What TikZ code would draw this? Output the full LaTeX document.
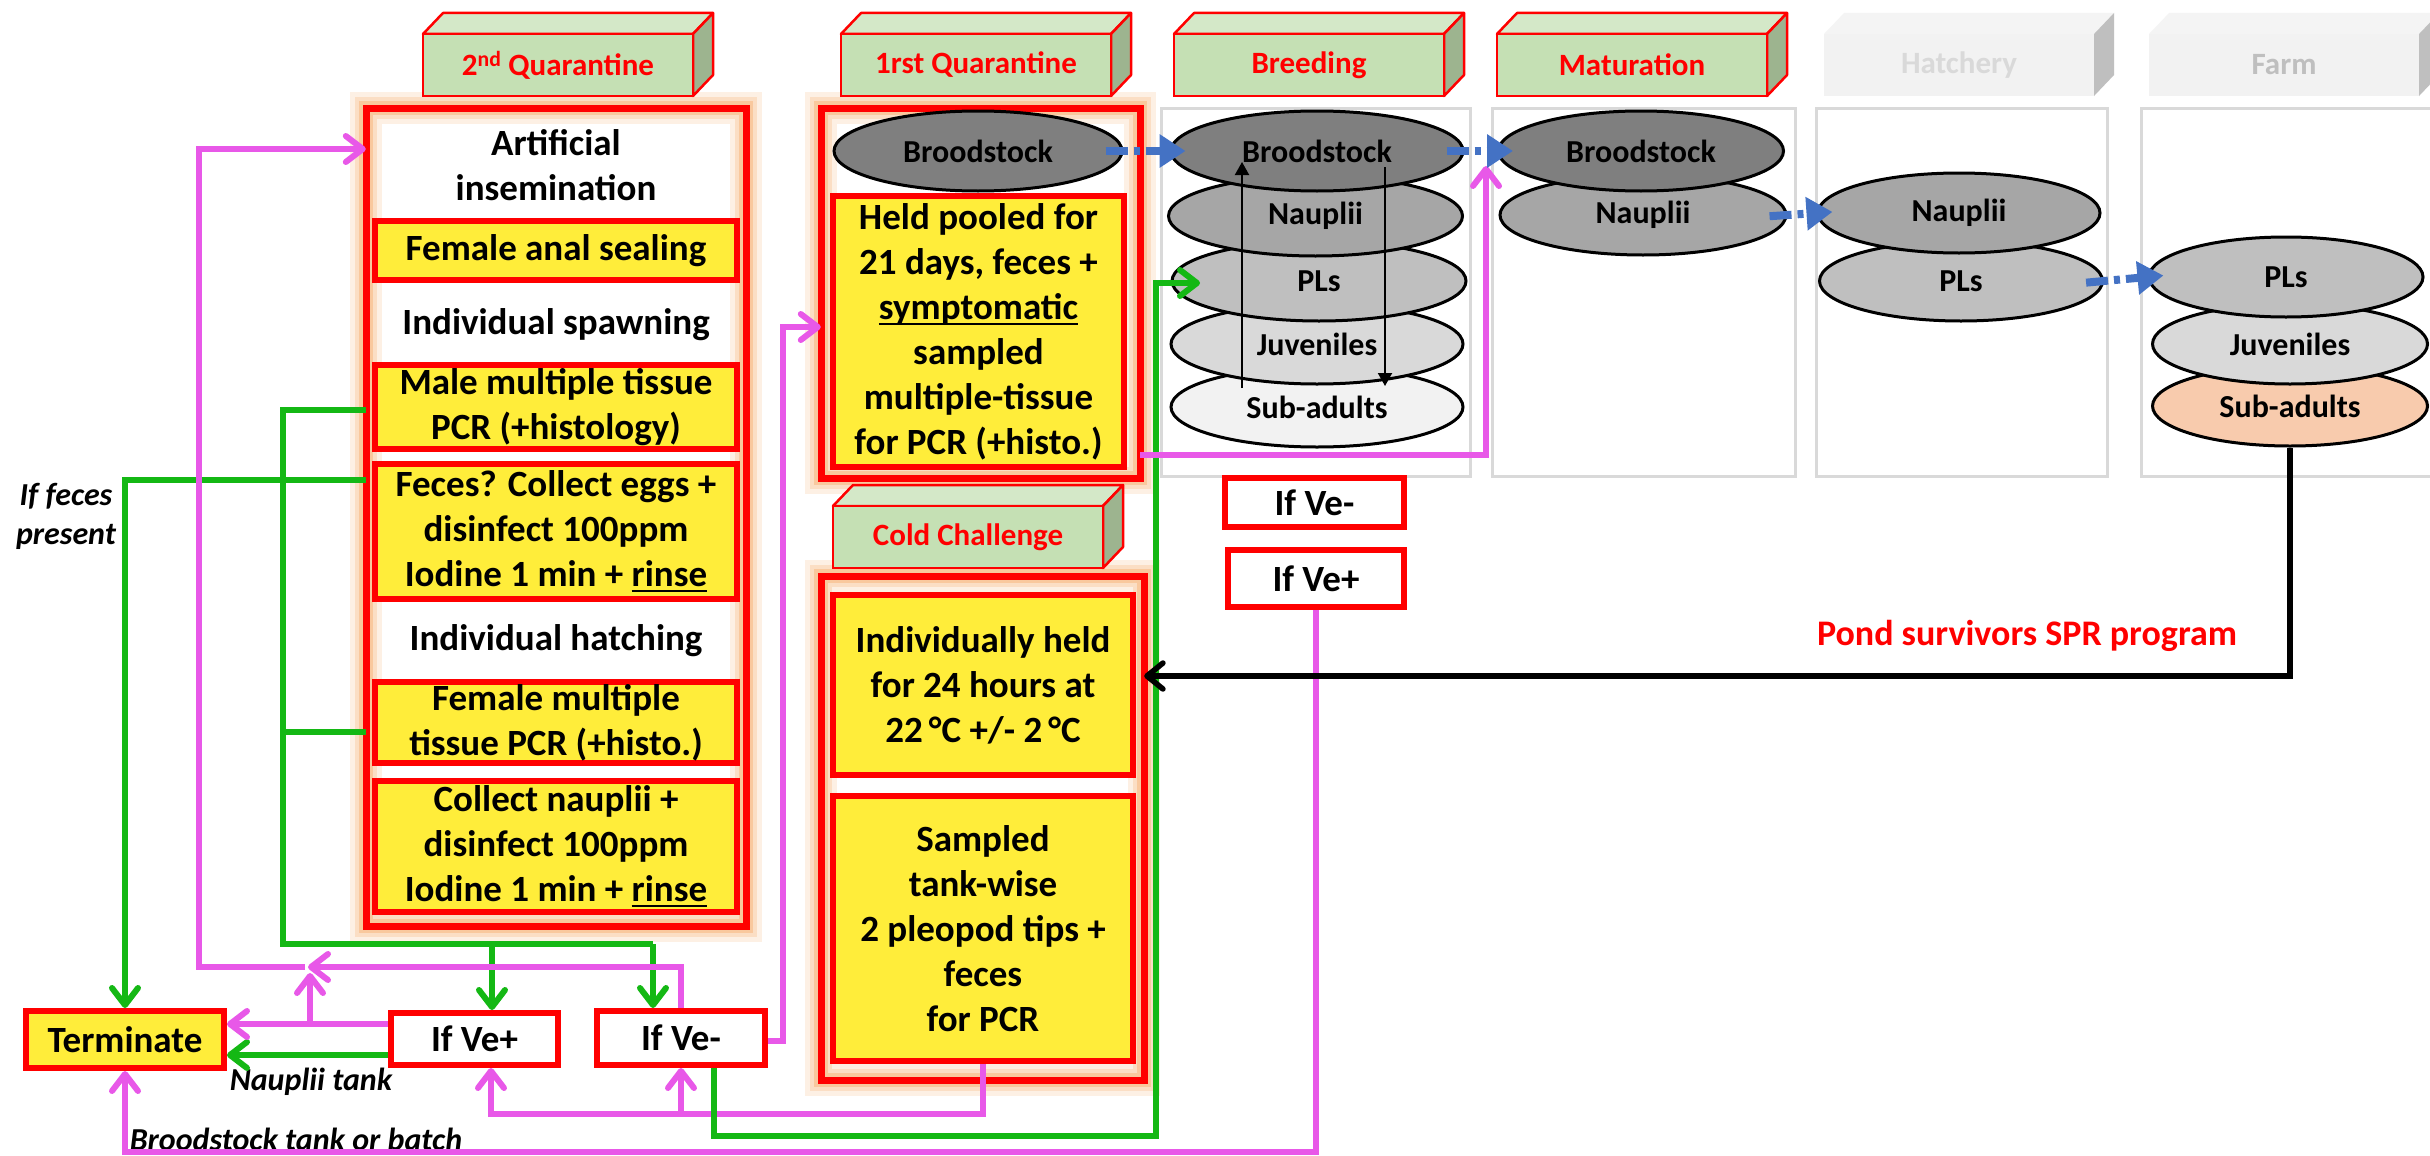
\documentclass[tikz,border=0pt]{standalone}
\usepackage{fontspec}
\setmainfont{Carlito}
\usetikzlibrary{arrows.meta,shapes.geometric,calc}

\definecolor{qred}{RGB}{255,0,0}
\definecolor{qyellow}{RGB}{255,237,58}
\definecolor{qpink}{RGB}{232,88,232}
\definecolor{qgreen}{RGB}{20,184,20}
\definecolor{qblue}{RGB}{68,114,196}
\definecolor{qglow}{RGB}{247,150,70}
\definecolor{lblfront}{RGB}{197,224,180}
\definecolor{lbltop}{RGB}{212,232,200}
\definecolor{lblside}{RGB}{157,180,143}
\definecolor{grayfront}{RGB}{242,242,242}
\definecolor{graytop}{RGB}{244,244,244}
\definecolor{grayside}{RGB}{191,191,191}
\definecolor{framegray}{RGB}{217,217,217}
\definecolor{ellA}{RGB}{127,127,127}
\definecolor{ellB}{RGB}{166,166,166}
\definecolor{ellC}{RGB}{191,191,191}
\definecolor{ellD}{RGB}{217,217,217}
\definecolor{ellE}{RGB}{242,242,242}
\definecolor{peach}{RGB}{248,203,173}

\newcommand{\bxfont}{\fontsize{37}{45}\selectfont\bfseries}
\newcommand{\lbfont}{\fontsize{31}{36}\selectfont\bfseries}
\newcommand{\elfont}{\fontsize{32}{36}\selectfont\bfseries}
\newcommand{\ntfont}{\fontsize{32}{39}\selectfont\bfseries\itshape}
\newcommand{\ulin}[1]{\setbox0=\hbox{#1}\rlap{\rule[-6pt]{\wd0}{2.5pt}}\box0}

% 3D header blocks: name, left x, top y of front face, text
\newcommand{\greenlabel}[4]{%
  \filldraw[fill=lbltop,draw=qred,line width=2.5pt,line join=round]
    (#2,#3) -- ++(20,-21) -- ++(270,0) -- ++(-20,21) -- cycle;
  \filldraw[fill=lblside,draw=qred,line width=2.5pt,line join=round]
    (#2+270,#3) -- ++(20,-21) -- ++(0,62) -- ++(-20,21) -- cycle;
  \node[draw=qred,line width=2.5pt,fill=lblfront,minimum width=270pt,
        minimum height=62pt,inner sep=0pt,font=\lbfont,text=qred]
    (#1) at (#2+135,#3+31) {#4};}
\newcommand{\greylabel}[5]{%
  \fill[graytop] (#2,#3) -- ++(20,-21) -- ++(270,0) -- ++(-20,21) -- cycle;
  \fill[grayside] (#2+270,#3) -- ++(20,-21) -- ++(0,62) -- ++(-20,21) -- cycle;
  \node[fill=grayfront,minimum width=270pt,minimum height=62pt,inner sep=0pt,
        font=\lbfont,text=#5] (#1) at (#2+135,#3+31) {#4};}

\tikzset{
  glowframe/.style={fill=white, inner sep=0pt,
    postaction={draw=qglow, draw opacity=0.14, line width=32pt},
    postaction={draw=qglow, draw opacity=0.2, line width=22pt},
    postaction={draw=qglow, draw opacity=0.3, line width=14pt},
    postaction={draw=qred, line width=7pt}},
  ybox/.style={draw=qred, line width=6pt, fill=qyellow, inner sep=0pt,
    font=\bxfont, align=center},
  wbox/.style={draw=qred, line width=6pt, fill=white, inner sep=0pt,
    font=\bxfont, align=center},
  btext/.style={inner sep=0pt, font=\bxfont, align=center},
  tankframe/.style={draw=framegray, line width=3pt, inner sep=0pt},
  stage/.style={ellipse, draw=black, line width=3pt, inner sep=0pt,
    minimum height=80pt, font=\elfont},
  note/.style={inner sep=0pt, font=\ntfont, align=center},
  pinkflow/.style={draw=qpink, line width=6pt},
  greenflow/.style={draw=qgreen, line width=6pt},
  openhead/.style={-{Straight Barb[length=17pt,width=26pt,round]}},
  blueflow/.style={draw=qblue, line width=8pt,
    dash pattern=on 22pt off 6pt on 6pt off 6pt,
    -{Triangle[length=26pt,width=32pt]}, shorten <=-18pt, shorten >=-16pt},
  thinarrow/.style={draw=black, line width=2pt, -{Triangle[length=13pt,width=14pt]}},
  returnflow/.style={draw=black, line width=5.5pt, -{Straight Barb[length=16pt,width=26pt,round]}},
}

\begin{document}
\begin{tikzpicture}[x=1pt,y=-1pt]
\useasboundingbox (0,0) rectangle (2430,1156);
\fill[white] (0,0) rectangle (2430,1156);

% ---------- 2nd quarantine ----------
\node[glowframe, minimum width=380pt, minimum height=818pt] (q2) at (556,517) {};
\node[btext] (ai) at (556,165) {Artificial\\insemination};
\node[ybox, minimum width=362pt, minimum height=59pt] (fas) at (556,250.5) {Female anal sealing};
\node[btext] (isp) at (556,325) {Individual spawning};
\node[ybox, minimum width=362pt, minimum height=84pt] (mmt) at (556,407) {Male multiple tissue\\PCR (+histology)};
\node[ybox, minimum width=362pt, minimum height=135pt] (fec) at (556,531.5) {Feces? Collect eggs +\\disinfect 100ppm\\Iodine 1 min + \ulin{rinse}};
\node[btext] (iht) at (556,641) {Individual hatching};
\node[ybox, minimum width=362pt, minimum height=81pt] (fmt) at (556,722.5) {Female multiple\\tissue PCR (+histo.)};
\node[ybox, minimum width=362pt, minimum height=131pt] (cna) at (556,846.5) {Collect nauplii +\\disinfect 100ppm\\Iodine 1 min + \ulin{rinse}};

% ---------- 1rst quarantine ----------
\node[glowframe, minimum width=319pt, minimum height=370pt] (q1) at (980.5,293) {};
\node[stage, fill=ellA, minimum width=288pt] (bs1) at (978,151) {Broodstock};
\node[ybox, minimum width=291pt, minimum height=271pt] (hp) at (978.5,331.5) {Held pooled for\\21 days, feces +\\\ulin{symptomatic}\\sampled\\multiple-tissue\\for PCR (+histo.)};

% ---------- cold challenge ----------
\node[glowframe, minimum width=323pt, minimum height=504pt] (cc) at (982.5,828) {};
\node[ybox, minimum width=300pt, minimum height=180pt] (ih) at (983,685) {Individually held\\for 24 hours at\\22\,°C +/- 2\,°C};
\node[ybox, minimum width=300pt, minimum height=265pt] (sm) at (983,928.5) {Sampled\\tank-wise\\2 pleopod tips +\\feces\\for PCR};

% ---------- tanks ----------
\node[tankframe, minimum width=309pt, minimum height=368pt] (tBr) at (1315.5,292) {};
\node[tankframe, minimum width=303pt, minimum height=368pt] (tMa) at (1643.5,292) {};
\node[tankframe, minimum width=291pt, minimum height=368pt] (tHa) at (1961.5,292) {};
\node[tankframe, minimum width=304pt, minimum height=368pt] (tFa) at (2293,292) {};

% breeding stages (lowest first)
\node[stage, fill=ellE, minimum width=292pt] (bsa) at (1317,407) {Sub-adults};
\node[stage, fill=ellD, minimum width=292pt] (bju) at (1317,344) {Juveniles};
\node[stage, fill=ellC, minimum width=294pt] (bpl) at (1319,281) {PLs};
\node[stage, fill=ellB, minimum width=294pt] (bna) at (1315.5,216) {Nauplii};
\node[stage, fill=ellA, minimum width=292pt] (bbs) at (1317,151) {Broodstock};
% maturation
\node[stage, fill=ellB, minimum width=286pt] (mna) at (1643,215) {Nauplii};
\node[stage, fill=ellA, minimum width=285pt] (mbs) at (1641,151) {Broodstock};
% hatchery
\node[stage, fill=ellC, minimum width=283pt] (hpl) at (1961,281) {PLs};
\node[stage, fill=ellB, minimum width=282pt] (hna) at (1959,213) {Nauplii};
% farm
\node[stage, fill=peach, minimum width=275pt] (fsa) at (2290,406) {Sub-adults};
\node[stage, fill=ellD, minimum width=275pt] (fju) at (2290,344) {Juveniles};
\node[stage, fill=ellC, minimum width=274pt] (fpl) at (2286,277) {PLs};

% ---------- headers ----------
\greenlabel{hQ2}{423}{34}{2\textsuperscript{nd} Quarantine}
\greenlabel{hQ1}{841}{34}{1rst Quarantine}
\greenlabel{hBr}{1174}{34}{Breeding}
\greenlabel{hMa}{1497}{34}{Maturation}
\greylabel{hHa}{1824}{34}{Hatchery}{framegray}
\greylabel{hFa}{2149}{34}{Farm}{grayside}
\greenlabel{hCC}{833}{506}{Cold Challenge}

% ---------- decision boxes ----------
\node[ybox, minimum width=198pt, minimum height=57pt] (term) at (125,1039.5) {Terminate};
\node[wbox, minimum width=167pt, minimum height=52pt] (vp) at (474.5,1039) {If Ve+};
\node[wbox, minimum width=168pt, minimum height=54pt] (vm) at (681,1038) {If Ve-};
\node[wbox, minimum width=179pt, minimum height=49pt] (bvm) at (1314.5,502.5) {If Ve-};
\node[wbox, minimum width=176pt, minimum height=57pt] (bvp) at (1316,578.5) {If Ve+};

% ---------- notes ----------
\node[note] (nfeces) at (66,516) {If feces\\present};
\node[note] (nnaup) at (311,1082) {Nauplii tank};
\node[note] (nbrood) at (296,1139) {Broodstock tank or batch};
\node[inner sep=0pt, font=\fontsize{36}{40}\selectfont\bfseries, text=qred] (nspr) at (2027,636) {Pond survivors SPR program};

% ---------- connectors ----------
% PCR results feeding the decisions
\coordinate (gm) at (283,410);
\coordinate (gb) at (283,944);
\draw[greenflow] (q2.west |- gm) -- (gm) -- (gb) -- (653,944);
\draw[greenflow] (q2.west |- 0,732) -- (283,732);
\draw[greenflow, openhead] (653,944) -- (653,944 |- vm.north);
\draw[greenflow, openhead] (492,944) -- (492,944 |- vp.north);
\draw[greenflow, openhead] (q2.west |- 0,480) -- (125,480) -- (125,480 |- term.north);
\draw[greenflow, openhead] (vp.west |- 0,1055) -- (term.east |- 0,1055);
% positive results
\draw[pinkflow, openhead] (vp.west |- 0,1024) -- (term.east |- 0,1024);
\draw[pinkflow, openhead] (310,1024) -- (310,973);
\draw[pinkflow, openhead] (vm.north) -- (681,967) -- (308,967);
\draw[pinkflow, openhead] (305,967) -- (199,967) -- (199,149) -- (q2.west |- 0,149);
\draw[pinkflow, openhead] (vm.east |- 0,1041) -- (783,1041) -- (783,327) -- (q1.west |- 0,327);
\draw[pinkflow, openhead] (sm.south) -- (983,1114) -- (491,1114) -- (491,1114 |- vp.south);
\draw[pinkflow, openhead] (681,1114) -- (vm.south);
\draw[pinkflow, openhead] (bvp.south) -- (1316,1152) -- (125,1152) -- (term.south);
\draw[greenflow, openhead] (714,1040 |- vm.south) -- (714,1136) -- (1156,1136) -- (1156,283) -- (1200,283);
\draw[pinkflow, openhead] (q1.east |- 0,455) -- (1486,455) -- (1486,166);
% pond survivors back to cold challenge
\draw[returnflow] (fsa.south) -- (fsa.south |- 0,676) -- (cc.east |- 0,676);
% stage transfers
\draw[blueflow] (bs1.east) -- (bbs.west);
\draw[blueflow] (bbs.east) -- (mbs.west);
\draw[blueflow] (mna.east) -- (hna.west);
\draw[blueflow] (hpl.east) -- (fpl.west);
\draw[thinarrow] (1242,388) -- (1242,162);
\draw[thinarrow] (1385,167) -- (1385,386);
\end{tikzpicture}
\end{document}
